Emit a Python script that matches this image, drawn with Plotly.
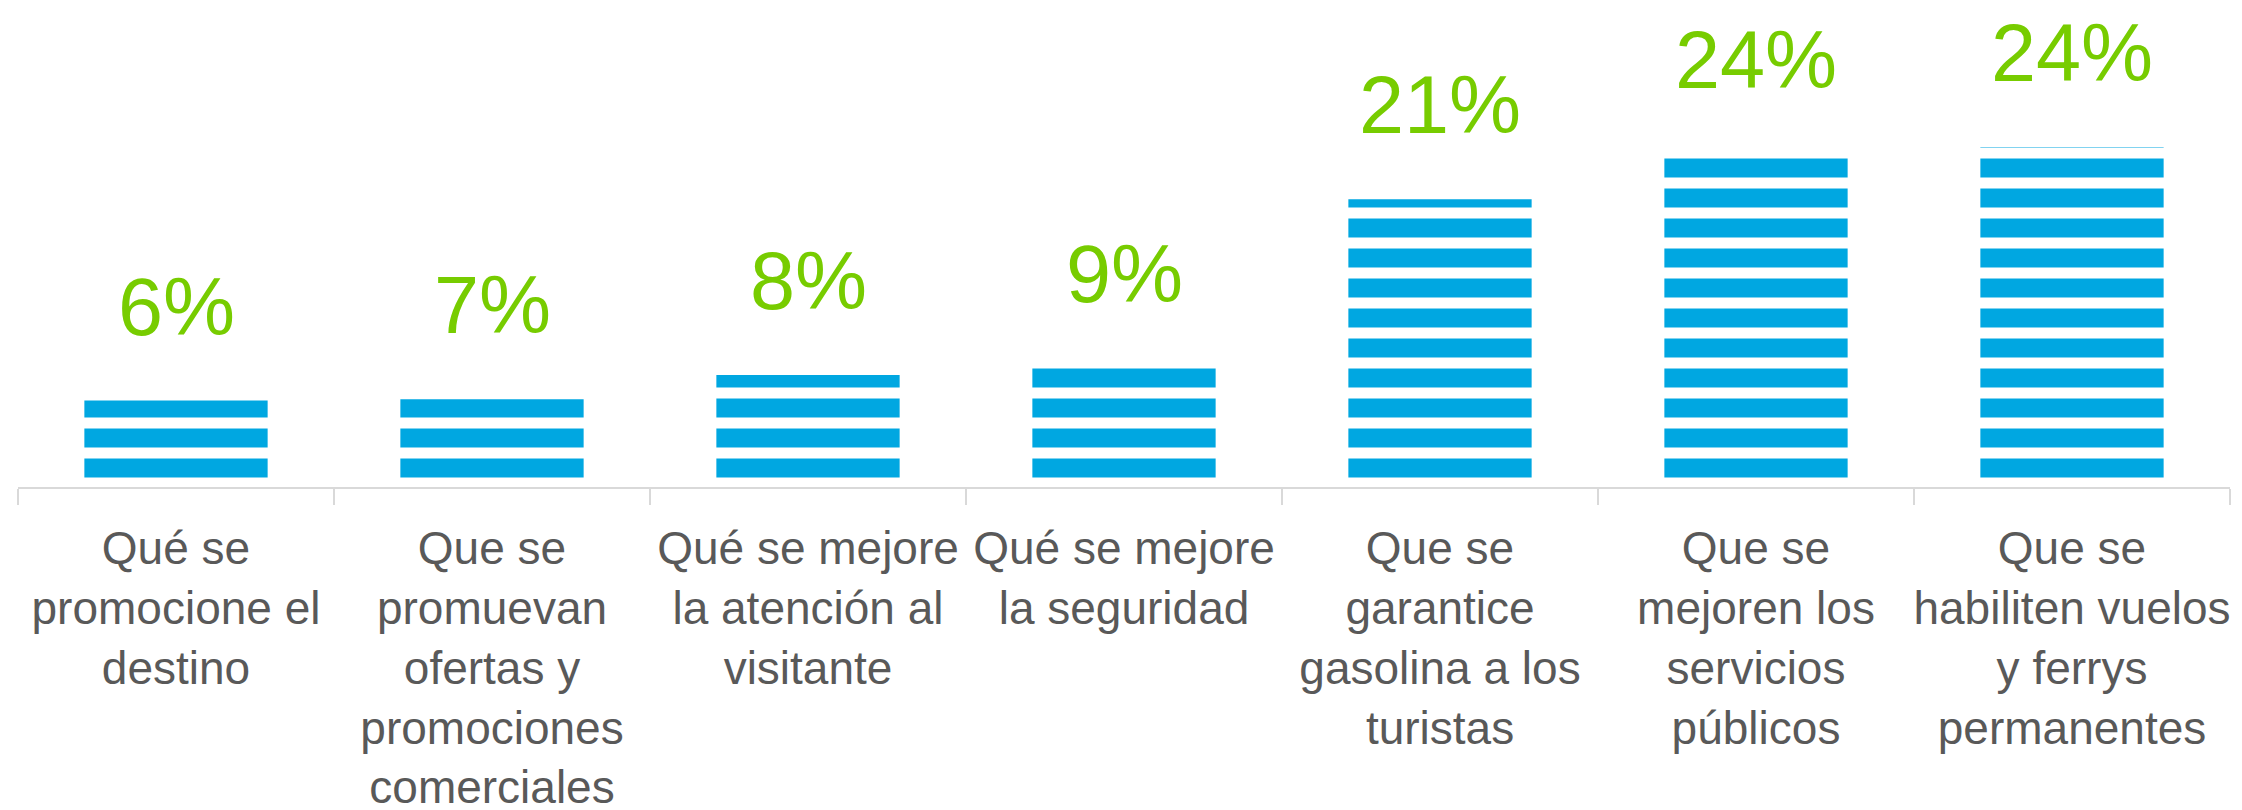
import plotly.graph_objects as go

categories = [
    "Qué se<br>promocione el<br>destino",
    "Que se<br>promuevan<br>ofertas y<br>promociones<br>comerciales",
    "Qué se mejore<br>la atención al<br>visitante",
    "Qué se mejore<br>la seguridad",
    "Que se<br>garantice<br>gasolina a los<br>turistas",
    "Que se<br>mejoren los<br>servicios<br>públicos",
    "Que se<br>habiliten vuelos<br>y ferrys<br>permanentes",
]
values = [6.1, 6.2, 7.9, 8.4, 20.3, 23.5, 24.0]
value_labels = ["6%", "7%", "8%", "9%", "21%", "24%", "24%"]

BLUE = "#00A7E1"
GREEN = "#77CC00"
GRAY = "#595959"
AXIS = "#D9D9D9"

fig = go.Figure()
fig.add_trace(go.Bar(
    x=categories,
    y=values,
    marker=dict(
        color=BLUE,
        line=dict(width=0),
        pattern=dict(shape="-", fillmode="replace", bgcolor="white",
                     fgcolor=BLUE, size=30, solidity=0.633),
    ),
    hoverinfo="skip",
    showlegend=False,
))

for c, v, t in zip(categories, values, value_labels):
    fig.add_annotation(
        x=c, y=v, text=t, showarrow=False, yanchor="bottom", yshift=47,
        font=dict(family="Liberation Sans, Arial, sans-serif", size=81, color=GREEN),
    )

fig.update_layout(
    width=2242, height=810,
    margin=dict(l=10, r=20, t=25, b=331, autoexpand=False),
    paper_bgcolor="white", plot_bgcolor="white",
    bargap=0.42,
    xaxis=dict(
        type="category", automargin=False,
        tickson="boundaries", ticks="outside", ticklen=16, tickwidth=2,
        tickcolor=AXIS, showline=True, linecolor=AXIS, linewidth=2,
        showgrid=False, zeroline=False, tickangle=0, ticklabelstandoff=20,
        tickfont=dict(family="Liberation Sans Narrow, Arial Narrow, Liberation Sans, sans-serif",
                      size=46, color=GRAY),
    ),
    yaxis=dict(range=[0, 32.04], visible=False, showgrid=False, zeroline=False,
               automargin=False),
)

fig.write_html("out.html")
